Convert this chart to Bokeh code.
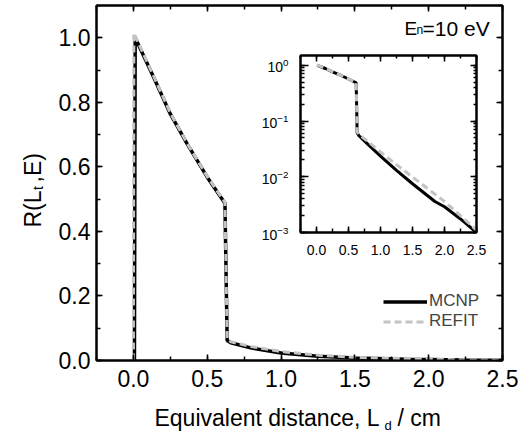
import numpy as np
from bokeh.plotting import figure
from bokeh.models import (LinearAxis, Range1d, SingleIntervalTicker, LogTicker,
                          PrintfTickFormatter, CustomJSTickFormatter, Label, Legend,
                          LegendItem, ColumnDataSource)
from bokeh.layouts import column
from bokeh.embed import file_html
from bokeh.resources import INLINE

FONT = "Liberation Sans"

# ---- data ----
mcnp_x = [0.007, 0.012, 0.138, 0.25, 0.364, 0.5, 0.62, 0.635, 0.66, 0.8, 1.0, 1.25, 1.5, 1.85, 2.0, 2.25, 2.5]
mcnp_y = [0.0, 1.0, 0.877, 0.764, 0.671, 0.568, 0.487, 0.062, 0.055, 0.0385, 0.0235, 0.0130, 0.0075, 0.0036, 0.0029, 0.00175, 0.001]

refit_x = [0.0, 0.003, 0.138, 0.25, 0.364, 0.5, 0.62, 0.635, 0.66, 0.8, 1.0, 1.25, 1.5, 2.0, 2.25, 2.5]
refit_y = [0.0, 1.015, 0.88, 0.767, 0.673, 0.57, 0.49, 0.065, 0.058, 0.043, 0.0278, 0.0165, 0.0099, 0.0036, 0.0020, 0.0011]

series_labels = ["MCNP", "REFIT"]
energy_text = ["E", "n", "=10 eV"]
xlabel_parts = ["Equivalent distance, L", "d", "/ cm"]
ylabel_parts = ["R(L", "t", ",E)"]

BLACK = "#000000"
GRAY = "#c3c3c3"
W, H = 518, 432


def style_axis(ax, size, tin, mtin, standoff):
    ax.axis_line_width = 2
    ax.axis_line_color = BLACK
    ax.major_tick_in = tin
    ax.major_tick_out = 0
    ax.minor_tick_in = mtin
    ax.minor_tick_out = 0
    ax.major_tick_line_width = 1.5
    ax.minor_tick_line_width = 1.5
    ax.major_label_text_font = FONT
    ax.major_label_text_font_size = size
    ax.major_label_text_color = BLACK
    ax.major_label_standoff = standoff


def mirror_axis(ticker, tin, mtin):
    ax = LinearAxis(ticker=ticker, formatter=CustomJSTickFormatter(code="return ''"))
    style_axis(ax, "1px", tin, mtin, 0)
    ax.major_label_text_color = None
    return ax


# ---- main figure ----
p = figure(width=W, height=H, x_range=Range1d(-0.25, 2.5), y_range=Range1d(0, 1.1),
           output_backend="svg", toolbar_location=None,
           min_border_left=96, min_border_right=16, min_border_top=5, min_border_bottom=72)
p.frame_align = False
p.grid.visible = False
p.outline_line_color = BLACK
p.outline_line_width = 2
p.background_fill_color = "white"
p.border_fill_color = "white"

p.xaxis.ticker = SingleIntervalTicker(interval=0.5, num_minor_ticks=2)
p.yaxis.ticker = SingleIntervalTicker(interval=0.2, num_minor_ticks=2)
p.xaxis.formatter = PrintfTickFormatter(format="%.1f")
p.yaxis.formatter = PrintfTickFormatter(format="%.1f")
style_axis(p.xaxis[0], "23px", 6, 4, 9)
style_axis(p.yaxis[0], "23px", 6, 4, 6)

p.add_layout(mirror_axis(SingleIntervalTicker(interval=0.2, num_minor_ticks=2), 6, 4), "right")
p.add_layout(mirror_axis(SingleIntervalTicker(interval=0.5, num_minor_ticks=2), 6, 4), "above")

src_m = ColumnDataSource(dict(x=mcnp_x, y=mcnp_y))
src_r = ColumnDataSource(dict(x=refit_x, y=refit_y))
r1 = p.line("x", "y", source=src_m, line_color=BLACK, line_width=3.5)
r2 = p.line("x", "y", source=src_r, line_color=GRAY, line_width=3, line_dash="7 4")

legend = Legend(items=[LegendItem(label=series_labels[0], renderers=[r1]),
                       LegendItem(label=series_labels[1], renderers=[r2])],
                location=(287, 29), glyph_width=44, glyph_height=19, label_height=19,
                label_standoff=2, spacing=0, padding=0, margin=0,
                border_line_color=None, background_fill_alpha=0,
                label_text_font=FONT, label_text_font_size="17px")
p.add_layout(legend)

# ---- inset figure ----
q = figure(width=236, height=222, x_range=Range1d(-0.25, 2.5), y_range=Range1d(1e-3, 1.5),
           y_axis_type="log", output_backend="svg", toolbar_location=None,
           min_border_left=50, min_border_right=10, min_border_top=10, min_border_bottom=35)
q.frame_align = False
q.grid.visible = False
q.outline_line_color = BLACK
q.outline_line_width = 2
q.background_fill_color = "white"
q.border_fill_color = None
q.xaxis.ticker = SingleIntervalTicker(interval=0.5, num_minor_ticks=2)
q.xaxis.formatter = PrintfTickFormatter(format="%.1f")
q.yaxis.ticker = LogTicker(num_minor_ticks=10)
style_axis(q.xaxis[0], "14px", 6, 4, 12)
style_axis(q.yaxis[0], "14px", 8, 4, 12)
q.add_layout(mirror_axis(LogTicker(num_minor_ticks=10), 6, 3), "right")
q.add_layout(mirror_axis(SingleIntervalTicker(interval=0.5, num_minor_ticks=2), 6, 3), "above")

mx = [a for a, b in zip(mcnp_x, mcnp_y) if b > 0]
my = [b for b in mcnp_y if b > 0]
rx = [a for a, b in zip(refit_x, refit_y) if b > 0]
ry = [b for b in refit_y if b > 0]
q.line(mx, my, line_color=BLACK, line_width=3)
q.line(rx, ry, line_color=GRAY, line_width=3, line_dash="7 4")
q.styles = {"position": "absolute", "left": "250px", "top": "45px"}

# ---- transparent overlay for the titles with subscripts ----
o = figure(width=W, height=H, x_range=Range1d(0, 1), y_range=Range1d(0, 1),
           output_backend="svg", toolbar_location=None,
           x_axis_location=None, y_axis_location=None, min_border=0)
o.frame_align = False
o.grid.visible = False
o.outline_line_color = None
o.background_fill_color = None
o.border_fill_color = None
o.styles = {"position": "absolute", "left": "0px", "top": "0px"}


def add_label(px, py, text, size, align="left", angle=0.0):
    o.add_layout(Label(x=px, y=H - py, x_units="screen", y_units="screen", text=text, angle=angle,
                       text_font=FONT, text_font_size=size, text_align=align,
                       text_baseline="alphabetic", text_color=BLACK))


add_label(379, 417, xlabel_parts[0], "23px", "right")
add_label(384, 424.5, xlabel_parts[1], "13px")
add_label(397, 417, xlabel_parts[2], "23px")

add_label(32, 227, ylabel_parts[0], "23px", angle=np.pi / 2)
add_label(37, 189.5, ylabel_parts[1], "14px", angle=np.pi / 2)
add_label(32, 182, ylabel_parts[2], "23px", angle=np.pi / 2)

add_label(404, 28.3, energy_text[0], "19px")
add_label(416, 29.5, energy_text[1], "12px")
add_label(422, 28.3, energy_text[2], "21px")

layout = column(p, q, o)
open("out.html", "w").write(file_html(layout, INLINE))
